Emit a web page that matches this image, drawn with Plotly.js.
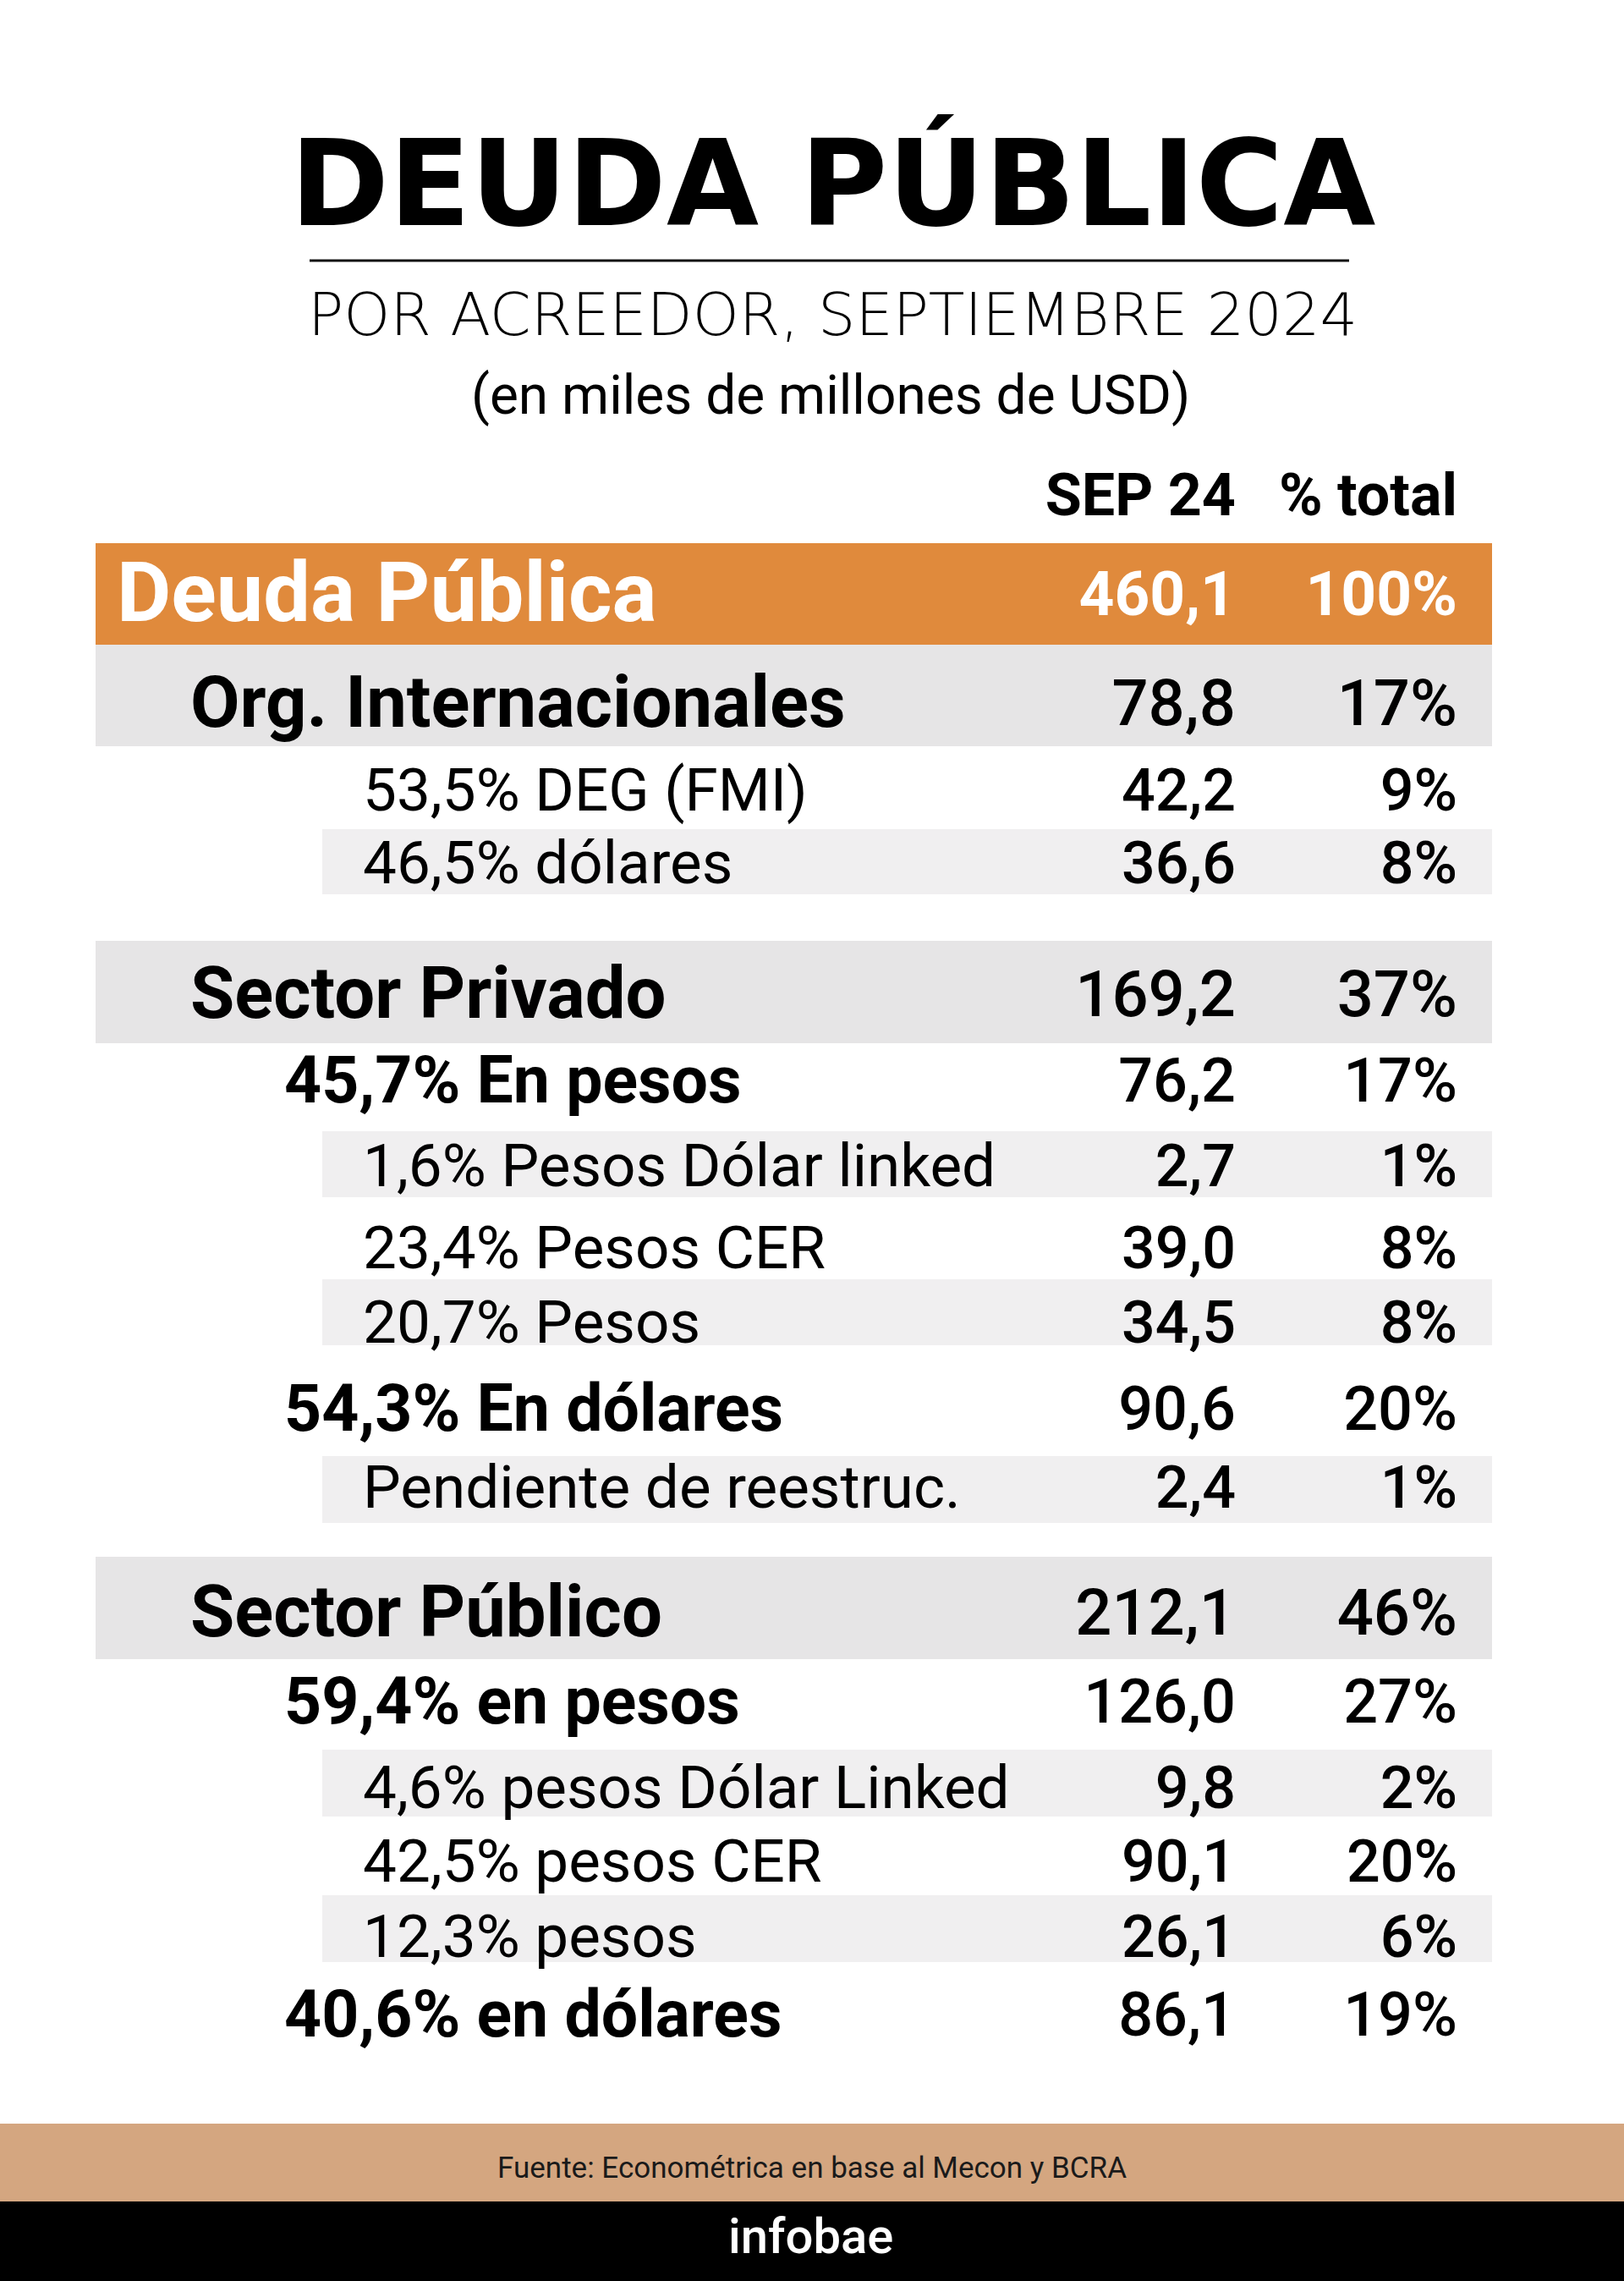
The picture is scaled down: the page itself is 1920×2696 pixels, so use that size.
<!DOCTYPE html>
<html>
<head>
<meta charset="utf-8">
<script src="https://cdn.plot.ly/plotly-3.0.1.min.js"></script>
<style>
  html, body { margin: 0; padding: 0; background: #ffffff; }
  #chart { width: 1920px; height: 2696px; }
</style>
</head>
<body>
<div id="chart"></div>
<script>
// ---------------- DATA ----------------
const TITLE = 'DEUDA PÚBLICA';
const SUBTITLE = 'POR ACREEDOR, SEPTIEMBRE 2024';
const UNITS = '(en miles de millones de USD)';
const HEADERS = ['SEP 24', '% total'];
const LABELS = [
  'Deuda Pública',
  'Org. Internacionales',
  '53,5% DEG (FMI)',
  '46,5% dólares',
  'Sector Privado',
  '45,7% En pesos',
  '1,6% Pesos Dólar linked',
  '23,4% Pesos CER',
  '20,7% Pesos',
  '54,3% En dólares',
  'Pendiente de reestruc.',
  'Sector Público',
  '59,4% en pesos',
  '4,6% pesos Dólar Linked',
  '42,5% pesos CER',
  '12,3% pesos',
  '40,6% en dólares'
];
const VALUES = [460.1, 78.8, 42.2, 36.6, 169.2, 76.2, 2.7, 39.0, 34.5, 90.6, 2.4, 212.1, 126.0, 9.8, 90.1, 26.1, 86.1];
const SHARES = [100, 17, 9, 8, 37, 17, 1, 8, 8, 20, 1, 46, 27, 2, 20, 6, 19];
const LEVELS = ['total', 'main', 'item', 'item', 'main', 'sub', 'item', 'item', 'item', 'sub', 'item', 'main', 'sub', 'item', 'item', 'item', 'sub'];
const SOURCE = 'Fuente: Econométrica en base al Mecon y BCRA';
const BRAND = 'infobae';

// ---------------- LAYOUT / STYLE ----------------
const W = 1920, H = 2696;
const Y_SHIFT = 7;
const ROW_Y = [702, 831, 933, 1019, 1175, 1277, 1377, 1474, 1562, 1665, 1757, 1906, 2011, 2112, 2199, 2288, 2381];
const HEADER_Y = 584;
const BANDS = [
  {y0: 642, y1: 763, x0: 113, color: '#E08A3C'},
  {y0: 762, y1: 882, x0: 113, color: '#E6E5E6'},
  {y0: 980, y1: 1057, x0: 381, color: '#F0EFF0'},
  {y0: 1112, y1: 1233, x0: 113, color: '#E6E5E6'},
  {y0: 1337, y1: 1415, x0: 381, color: '#F0EFF0'},
  {y0: 1512, y1: 1590, x0: 381, color: '#F0EFF0'},
  {y0: 1721, y1: 1800, x0: 381, color: '#F0EFF0'},
  {y0: 1840, y1: 1961, x0: 113, color: '#E6E5E6'},
  {y0: 2068, y1: 2147, x0: 381, color: '#F0EFF0'},
  {y0: 2240, y1: 2319, x0: 381, color: '#F0EFF0'}
];
const BAND_X1 = 1764;
const COL_VALUE_X = 1461, COL_SHARE_X = 1723;
const STYLE = {
  total: {x: 138, label: {size: 99, weight: 700, color: '#ffffff'}, num: {size: 73, weight: 700, color: '#ffffff'}},
  main:  {x: 225, label: {size: 85, weight: 700, color: '#000000'}, num: {size: 76, weight: 500, color: '#000000'}},
  sub:   {x: 336, label: {size: 77, weight: 700, color: '#000000'}, num: {size: 72, weight: 500, color: '#000000'}},
  item:  {x: 429, label: {size: 71, weight: 400, color: '#000000'}, num: {size: 70, weight: 500, color: '#000000'}}
};
const FONT = 'Roboto, "Liberation Sans", sans-serif';

function fmtNum(v) { return v.toFixed(1).replace('.', ','); }
function fmtPct(v) { return v + '%'; }

const traces = [];
['total', 'main', 'sub', 'item'].forEach(function (lvl) {
  const idx = LEVELS.map(function (l, i) { return l === lvl ? i : -1; }).filter(function (i) { return i >= 0; });
  const st = STYLE[lvl];
  const ys = idx.map(function (i) { return ROW_Y[i] + Y_SHIFT; });
  traces.push({
    type: 'scatter', mode: 'text', hoverinfo: 'skip', cliponaxis: false, showlegend: false,
    x: idx.map(function () { return st.x; }), y: ys,
    text: idx.map(function (i) { return LABELS[i]; }),
    textposition: 'middle right',
    textfont: {family: FONT, size: st.label.size, weight: st.label.weight, color: st.label.color}
  });
  traces.push({
    type: 'scatter', mode: 'text', hoverinfo: 'skip', cliponaxis: false, showlegend: false,
    x: idx.map(function () { return COL_VALUE_X; }), y: ys,
    text: idx.map(function (i) { return fmtNum(VALUES[i]); }),
    textposition: 'middle left',
    textfont: {family: FONT, size: st.num.size, weight: st.num.weight, color: st.num.color}
  });
  traces.push({
    type: 'scatter', mode: 'text', hoverinfo: 'skip', cliponaxis: false, showlegend: false,
    x: idx.map(function () { return COL_SHARE_X; }), y: ys,
    text: idx.map(function (i) { return fmtPct(SHARES[i]); }),
    textposition: 'middle left',
    textfont: {family: FONT, size: st.num.size, weight: st.num.weight, color: st.num.color}
  });
});
// column headers
traces.push({
  type: 'scatter', mode: 'text', hoverinfo: 'skip', cliponaxis: false, showlegend: false,
  x: [COL_VALUE_X, COL_SHARE_X], y: [HEADER_Y + Y_SHIFT, HEADER_Y + Y_SHIFT],
  text: HEADERS,
  textposition: 'middle left',
  textfont: {family: FONT, size: 70, weight: 700, color: '#000000'}
});

const shapes = BANDS.map(function (b) {
  return {type: 'rect', xref: 'x', yref: 'y', x0: b.x0, x1: BAND_X1, y0: b.y0, y1: b.y1,
          fillcolor: b.color, line: {width: 0}, layer: 'below'};
});
shapes.push({type: 'line', xref: 'x', yref: 'y', x0: 366, x1: 1595, y0: 308, y1: 308, line: {color: '#111111', width: 3}});
shapes.push({type: 'rect', xref: 'x', yref: 'y', x0: 0, x1: W, y0: 2510, y1: 2602, fillcolor: '#D4A680', line: {width: 0}, layer: 'below'});
shapes.push({type: 'rect', xref: 'x', yref: 'y', x0: 0, x1: W, y0: 2602, y1: H, fillcolor: '#000000', line: {width: 0}, layer: 'below'});

const annotations = [
  {text: TITLE, x: 984, y: 217, xref: 'x', yref: 'y', xanchor: 'center', yanchor: 'middle', showarrow: false,
   font: {family: '"DejaVu Sans", sans-serif', size: 141, weight: 700, color: '#000000'}},
  {text: SUBTITLE, x: 984, y: 372, xref: 'x', yref: 'y', xanchor: 'center', yanchor: 'middle', showarrow: false,
   font: {family: '"DejaVu Sans", sans-serif', size: 70, weight: 200, color: '#000000'}},
  {text: UNITS, x: 982, y: 467, xref: 'x', yref: 'y', xanchor: 'center', yanchor: 'middle', showarrow: false,
   font: {family: FONT, size: 64, weight: 400, color: '#000000'}},
  {text: SOURCE, x: 960, y: 2562, xref: 'x', yref: 'y', xanchor: 'center', yanchor: 'middle', showarrow: false,
   font: {family: FONT, size: 35, weight: 400, color: '#1a1a1a'}},
  {text: BRAND, x: 958, y: 2643, xref: 'x', yref: 'y', xanchor: 'center', yanchor: 'middle', showarrow: false,
   font: {family: FONT, size: 58, weight: 500, color: '#ffffff'}}
];

const layout = {
  width: W, height: H,
  margin: {l: 0, r: 0, t: 0, b: 0, pad: 0},
  paper_bgcolor: '#ffffff', plot_bgcolor: '#ffffff',
  showlegend: false,
  xaxis: {range: [0, W], visible: false, fixedrange: true},
  yaxis: {range: [H, 0], visible: false, fixedrange: true},
  shapes: shapes,
  annotations: annotations,
  hovermode: false
};

Plotly.newPlot('chart', traces, layout, {staticPlot: true, displayModeBar: false});
</script>
</body>
</html>
